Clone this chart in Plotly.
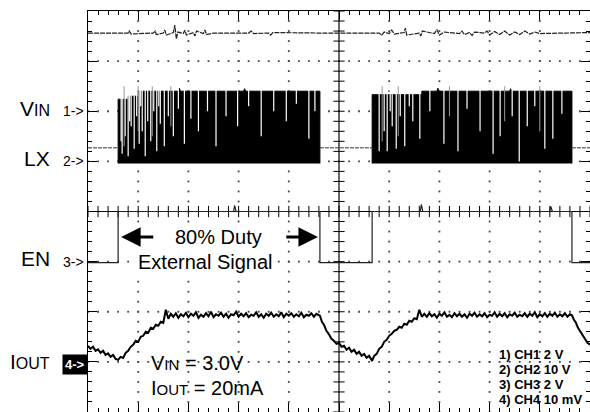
import plotly.graph_objects as go

# Scope screen is 10 x 8 divisions; everything below is in divisions
# (x = horizontal div, y = vertical div from bottom of screen)

# ---- CH3: EN (external 80% duty signal) ----
en_x = [0, 0.6, 0.6, 2.9, 2.92, 2.95, 4.62, 4.62, 5.66, 5.66, 6.62, 6.64, 6.67, 9.2, 9.22, 9.25, 9.64, 9.64, 10]
en_y = [2.98, 2.98, 4.0, 4.0, 4.12, 4.0, 4.0, 2.98, 2.98, 4.0, 4.0, 4.14, 4.0, 4.0, 4.1, 4.0, 4.0, 2.98, 2.98]

# ---- CH2: LX (switch node) ----
lx_off_x = [0, 0.6, None, 4.62, 5.66, None, 9.64, 10]
lx_off_y = [5.27, 5.27, None, 5.27, 5.27, None, 5.27, 5.27]
burst1 = [(0.60, 4.96), (0.60, 6.24), (0.80, 6.24), (0.80, 6.30), (1.00, 6.30), (1.00, 6.40),
          (1.80, 6.40), (1.82, 6.46), (1.84, 6.40), (3.10, 6.40), (3.12, 6.45), (3.14, 6.40),
          (4.62, 6.40), (4.62, 4.96)]
burst2 = [(5.66, 4.96), (5.66, 6.33), (6.65, 6.33), (6.65, 6.40), (6.95, 6.40), (6.97, 6.46),
          (6.99, 6.40), (8.40, 6.40), (8.42, 6.45), (8.44, 6.40), (9.64, 6.40), (9.64, 4.96)]
# white gaps between switching pulses: (x, lower end)
lx_gaps = [(0.66, 5.4), (0.68, 5.15), (0.74, 5.5), (0.80, 5.1), (0.83, 5.8), (0.86, 5.7), (0.92, 5.25),
           (0.97, 5.9), (1.02, 5.35), (1.05, 6.1), (1.08, 5.6), (1.14, 5.1), (1.19, 5.8), (1.25, 5.4),
           (1.31, 6.0), (1.37, 5.2), (1.41, 6.1), (1.44, 5.75), (1.52, 5.3), (1.60, 5.9), (1.70, 5.5),
           (1.80, 6.05), (1.92, 5.35), (2.05, 5.85), (2.20, 5.6), (2.38, 6.0), (2.55, 5.3), (2.75, 5.9),
           (2.98, 5.7), (3.20, 6.1), (3.45, 5.5), (3.70, 6.0), (3.95, 5.8), (4.15, 6.15),
           (4.40, 5.45), (4.52, 6.0),
           (5.80, 5.2), (5.90, 5.6), (5.96, 5.2), (6.02, 6.0), (6.06, 5.7), (6.14, 5.25), (6.22, 5.9),
           (6.31, 5.3), (6.40, 6.1), (6.47, 5.8), (6.61, 5.45), (6.81, 6.0), (7.09, 5.35), (7.37, 5.2),
           (7.55, 6.05), (7.81, 5.6), (8.07, 5.15), (8.21, 5.5), (8.45, 5.9), (8.59, 5.0),
           (8.75, 5.7), (8.90, 6.1), (9.10, 5.25), (9.26, 5.45), (9.44, 5.95)]
lx_gray = [(0.72, 5.3), (1.00, 5.6), (1.28, 5.5), (1.65, 5.7), (5.86, 5.4), (6.18, 5.5),
           (7.20, 5.9), (8.30, 5.8), (9.0, 5.6)]

# ---- CH1: VIN ----
vin_pts = [(0, 7.56), (0.8, 7.56), (0.82, 7.6), (0.86, 7.54), (1.3, 7.56), (1.34, 7.6), (1.36, 7.53),
           (1.5, 7.56), (1.53, 7.62), (1.56, 7.52), (1.7, 7.57), (1.73, 7.72), (1.76, 7.44),
           (1.79, 7.58), (1.9, 7.55), (1.93, 7.62), (1.96, 7.52), (2.1, 7.57), (2.13, 7.5),
           (2.16, 7.6), (2.3, 7.55), (2.33, 7.62), (2.36, 7.53), (2.5, 7.56), (3.2, 7.56),
           (3.25, 7.6), (3.3, 7.55), (3.6, 7.56), (3.64, 7.52), (3.68, 7.57), (4.6, 7.56),
           (5.8, 7.56), (5.85, 7.52), (5.9, 7.58), (6.0, 7.55), (6.05, 7.62), (6.1, 7.54),
           (6.3, 7.57), (6.32, 7.66), (6.35, 7.52), (6.6, 7.56), (6.63, 7.5), (6.66, 7.6),
           (6.9, 7.55), (6.95, 7.63), (7.0, 7.52), (7.1, 7.58), (7.4, 7.55), (7.45, 7.6),
           (7.5, 7.53), (7.6, 7.57), (7.65, 7.51), (7.7, 7.58), (7.9, 7.56), (7.95, 7.6),
           (8.0, 7.52), (8.1, 7.59), (8.2, 7.53), (8.3, 7.6), (8.4, 7.52), (8.5, 7.58),
           (8.6, 7.53), (8.7, 7.6), (8.8, 7.54), (8.9, 7.58), (9.0, 7.55), (9.5, 7.56), (10, 7.57)]

# ---- CH4: IOUT ----
iout_pts = [(0.00, 1.32), (0.05, 1.26), (0.10, 1.30), (0.15, 1.22), (0.20, 1.25), (0.25, 1.18),
            (0.30, 1.22), (0.35, 1.14), (0.40, 1.17), (0.45, 1.10), (0.50, 1.14), (0.55, 1.06),
            (0.60, 1.04), (0.65, 1.10), (0.70, 1.08), (0.75, 1.18), (0.80, 1.22), (0.85, 1.30),
            (0.90, 1.34), (0.95, 1.42), (1.00, 1.40), (1.05, 1.50), (1.10, 1.52), (1.15, 1.60),
            (1.20, 1.58), (1.25, 1.68), (1.30, 1.66), (1.35, 1.74), (1.40, 1.72), (1.45, 1.80),
            (1.50, 1.78), (1.55, 2.04), (1.60, 1.86), (1.65, 1.96), (1.70, 1.90), (1.75, 1.97),
            (1.80, 1.88), (1.85, 1.95), (1.90, 1.91), (1.95, 1.98), (2.00, 1.89), (2.05, 1.96),
            (2.10, 1.92), (2.15, 1.99), (2.20, 1.88), (2.25, 1.94), (2.30, 1.90), (2.35, 1.97),
            (2.40, 1.91), (2.45, 2.00), (2.50, 1.89), (2.55, 1.95), (2.60, 1.92), (2.65, 1.98),
            (2.70, 1.90), (2.75, 1.96), (2.80, 1.88), (2.85, 1.95), (2.90, 1.93), (2.95, 2.00),
            (3.00, 1.90), (3.05, 1.96), (3.10, 1.91), (3.15, 1.97), (3.20, 1.89), (3.25, 1.94),
            (3.30, 1.92), (3.35, 1.99), (3.40, 1.90), (3.45, 1.95), (3.50, 1.88), (3.55, 1.96),
            (3.60, 1.92), (3.65, 1.98), (3.70, 1.90), (3.75, 1.95), (3.80, 1.91), (3.85, 1.99),
            (3.90, 1.89), (3.95, 1.96), (4.00, 1.92), (4.05, 1.97), (4.10, 1.90), (4.15, 1.95),
            (4.20, 1.91), (4.25, 1.98), (4.30, 1.89), (4.35, 1.94), (4.40, 1.92), (4.45, 1.97),
            (4.50, 1.90), (4.55, 1.96), (4.62, 1.92), (4.66, 1.80), (4.70, 1.74), (4.75, 1.62),
            (4.80, 1.55), (4.85, 1.46), (4.90, 1.42), (4.95, 1.36), (5.00, 1.38), (5.05, 1.30),
            (5.10, 1.32), (5.15, 1.24), (5.20, 1.28), (5.25, 1.20), (5.30, 1.24), (5.35, 1.16),
            (5.40, 1.20), (5.45, 1.12), (5.50, 1.16), (5.55, 1.08), (5.60, 1.12), (5.66, 1.02),
            (5.70, 1.12), (5.75, 1.16), (5.80, 1.26), (5.85, 1.30), (5.90, 1.40), (5.95, 1.44),
            (6.00, 1.52), (6.05, 1.56), (6.10, 1.62), (6.15, 1.64), (6.20, 1.70), (6.25, 1.68),
            (6.30, 1.76), (6.35, 1.74), (6.40, 1.82), (6.45, 1.80), (6.50, 1.87), (6.55, 1.85),
            (6.60, 2.04), (6.65, 1.90), (6.70, 1.96), (6.75, 1.90), (6.80, 1.97), (6.85, 1.91),
            (6.90, 1.95), (6.95, 1.88), (7.00, 1.96), (7.05, 1.92), (7.10, 1.99), (7.15, 1.90),
            (7.20, 1.94), (7.25, 1.89), (7.30, 1.97), (7.35, 1.91), (7.40, 1.96), (7.45, 1.90),
            (7.50, 1.95), (7.55, 1.88), (7.60, 1.96), (7.65, 1.92), (7.70, 1.98), (7.75, 1.90),
            (7.80, 1.95), (7.85, 1.91), (7.90, 1.97), (7.95, 1.89), (8.00, 1.94), (8.05, 1.92),
            (8.10, 1.99), (8.15, 1.90), (8.20, 1.96), (8.25, 1.91), (8.30, 1.97), (8.35, 1.89),
            (8.40, 1.95), (8.45, 1.92), (8.50, 1.98), (8.55, 1.90), (8.60, 1.94), (8.65, 1.91),
            (8.70, 1.97), (8.75, 1.90), (8.80, 1.96), (8.85, 1.92), (8.90, 1.99), (8.95, 1.89),
            (9.00, 1.95), (9.05, 1.91), (9.10, 1.97), (9.15, 1.90), (9.20, 1.96), (9.25, 1.92),
            (9.30, 1.98), (9.35, 1.90), (9.40, 1.95), (9.45, 1.91), (9.50, 1.97), (9.55, 1.90),
            (9.60, 1.95), (9.64, 1.93), (9.68, 1.84), (9.72, 1.78), (9.76, 1.68), (9.80, 1.62),
            (9.85, 1.52), (9.90, 1.46), (9.95, 1.38), (10.0, 1.34)]

# channel labels on the left
ch_names = ["V<span style='font-size:16px'>IN</span>", "LX", "EN", "I<span style='font-size:16px'>OUT</span>"]
ch_marks = ["1->", "2->", "3->", "4->"]
ch_levels = [6.0, 5.0, 3.0, 0.95]
scale_text = ["1) CH1 2 V", "2) CH2 10 V", "3) CH3 2 V", "4) CH4 10 mV"]

FONT = "Liberation Sans, Arial, sans-serif"
fig = go.Figure()

# dotted graticule
gx, gy = [], []
for i in range(1, 10):
    if i == 5:
        continue
    for k in range(41):
        gx.append(i); gy.append(k * 0.2)
for j in range(1, 8):
    if j == 4:
        continue
    for k in range(51):
        gx.append(k * 0.2); gy.append(j)
fig.add_trace(go.Scatter(x=gx, y=gy, mode="markers", hoverinfo="skip",
                         marker=dict(symbol="square", size=1.8, color="#444", line_width=0)))

# center cross with ticks
fig.add_trace(go.Scatter(x=[5, 5, None, 0, 10], y=[0, 8, None, 4, 4], mode="lines",
                         line=dict(color="black", width=1.2), hoverinfo="skip"))
fig.add_trace(go.Scatter(x=[5] * 41, y=[k * 0.2 for k in range(41)], mode="markers", hoverinfo="skip",
                         marker=dict(symbol="line-ew", size=8, line=dict(color="black", width=1))))
fig.add_trace(go.Scatter(x=[k * 0.2 for k in range(51)], y=[4] * 51, mode="markers", hoverinfo="skip",
                         marker=dict(symbol="line-ns", size=8, line=dict(color="black", width=1))))

# LX bursts
for b in (burst1, burst2):
    fig.add_trace(go.Scatter(x=[p[0] for p in b], y=[p[1] for p in b], fill="toself",
                             fillcolor="black", mode="lines", line=dict(color="black", width=1),
                             hoverinfo="skip"))
gap_x, gap_y = [], []
for x, lo in lx_gaps:
    gap_x += [x, x, None]; gap_y += [6.5, lo, None]
fig.add_trace(go.Scatter(x=gap_x, y=gap_y, mode="lines", line=dict(color="white", width=1.2), hoverinfo="skip"))
gray_x, gray_y = [], []
for x, lo in lx_gray:
    gray_x += [x, x, None]; gray_y += [6.5, lo, None]
fig.add_trace(go.Scatter(x=gray_x, y=gray_y, mode="lines", line=dict(color="#999", width=1), hoverinfo="skip"))
fig.add_trace(go.Scatter(x=lx_off_x, y=lx_off_y, mode="lines", line=dict(color="#333", width=1, dash="4px,1px"),
                         hoverinfo="skip"))

# EN, VIN, IOUT
fig.add_trace(go.Scatter(x=en_x, y=en_y, mode="lines", line=dict(color="#222", width=1.2), hoverinfo="skip"))
fig.add_trace(go.Scatter(x=[p[0] for p in vin_pts], y=[p[1] for p in vin_pts], mode="lines",
                         line=dict(color="#222", width=1.2, dash="5px,1px"), hoverinfo="skip"))
fig.add_trace(go.Scatter(x=[p[0] for p in iout_pts], y=[p[1] for p in iout_pts], mode="lines",
                         line=dict(color="black", width=2), hoverinfo="skip"))

# left-side labels live in the margin -> paper coords (1 div = 0.1 paper)
ann = []
for name, mk, lev in zip(ch_names, ch_marks, ch_levels):
    ann.append(dict(xref="paper", x=-0.072, y=lev, text=name, xanchor="right", yanchor="middle", yshift=3,
                    showarrow=False, font=dict(family=FONT, size=21, color="black")))
    if mk == "4->":
        ann.append(dict(xref="paper", x=0, y=lev, text="<b>4-></b>", xanchor="right", yanchor="middle",
                        showarrow=False, bgcolor="black", borderpad=2,
                        font=dict(family=FONT, size=13, color="white")))
    else:
        ann.append(dict(xref="paper", x=-0.004, y=lev, text=mk, xanchor="right", yanchor="middle",
                        showarrow=False, font=dict(family=FONT, size=14, color="black")))

ann += [
    dict(x=2.59, y=3.49, text="80% Duty", showarrow=False, bgcolor="white",
         font=dict(family=FONT, size=20, color="black")),
    dict(x=2.35, y=2.99, text="External Signal", showarrow=False, bgcolor="white",
         font=dict(family=FONT, size=20, color="black")),
    dict(x=0.66, y=3.49, ax=1.33, ay=3.49, xref="x", yref="y", axref="x", ayref="y", text="",
         showarrow=True, arrowhead=2, arrowsize=1.3, arrowwidth=3, arrowcolor="black"),
    dict(x=4.58, y=3.49, ax=3.92, ay=3.49, xref="x", yref="y", axref="x", ayref="y", text="",
         showarrow=True, arrowhead=2, arrowsize=1.3, arrowwidth=3, arrowcolor="black"),
    dict(x=1.22, y=0.98, text="V<span style='font-size:15px'>IN</span> = 3.0V", xanchor="left",
         showarrow=False, font=dict(family=FONT, size=20, color="black")),
    dict(x=1.22, y=0.48, text="I<span style='font-size:15px'>OUT</span> = 20mA", xanchor="left",
         showarrow=False, font=dict(family=FONT, size=20, color="black")),
]
for k, t in enumerate(scale_text):
    ann.append(dict(x=8.15, y=1.14 - 0.3 * k, text="<b>" + t + "</b>", xanchor="left",
                    showarrow=False, font=dict(family=FONT, size=13, color="black")))

axis_common = dict(showgrid=False, zeroline=False, showticklabels=False, showline=True,
                   linecolor="black", linewidth=1, mirror="ticks", ticks="inside",
                   dtick=1, ticklen=9, tickcolor="black", tickwidth=1,
                   minor=dict(ticks="inside", dtick=0.2, ticklen=4, tickcolor="black", tickwidth=1))
fig.update_xaxes(range=[0, 10], **axis_common)
fig.update_yaxes(range=[0, 8], **axis_common)
fig.update_layout(width=590, height=412, margin=dict(l=88, r=0, t=11, b=0),
                  plot_bgcolor="white", paper_bgcolor="white", showlegend=False,
                  annotations=ann)

# page body has a default 8px margin; drop it so the figure sits at the window corner
fig.write_html("out.html", config={"displayModeBar": False},
               post_script="document.body.style.margin='0';")
